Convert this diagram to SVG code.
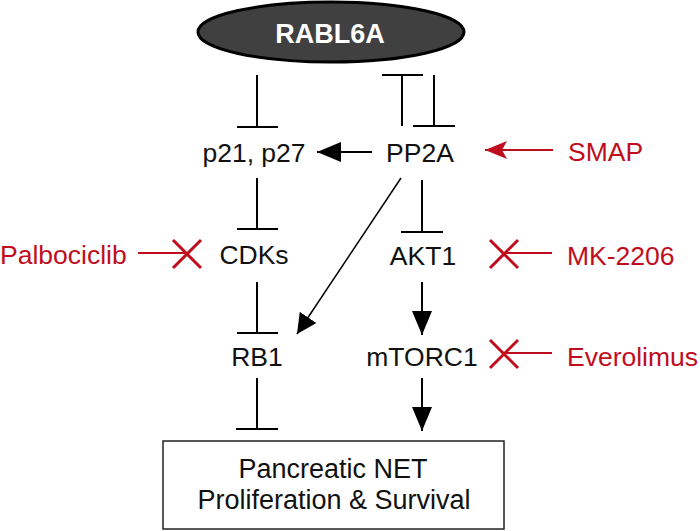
<svg xmlns="http://www.w3.org/2000/svg" width="700" height="531" viewBox="0 0 700 531">
<defs>
<style>
.t{font-family:"Liberation Sans",Arial,sans-serif;font-size:26.5px;fill:#111;text-anchor:middle}
.r{fill:#c00d1e}
.ln{stroke:#000;stroke-width:2;fill:none}
.thin{stroke:#000;stroke-width:1.5;fill:none}
.red{stroke:#c00d1e;stroke-width:2;fill:none}
.redx{stroke:#c00d1e;stroke-width:3;fill:none}
</style>
<marker id="ah" viewBox="0 0 20 20" refX="20" refY="10" markerWidth="20" markerHeight="20" markerUnits="userSpaceOnUse" orient="auto">
<path d="M0,0 L20,10 L0,20 Z" fill="#000"/>
</marker>
<marker id="ahl" viewBox="0 0 24 20" refX="24" refY="10" markerWidth="24" markerHeight="20" markerUnits="userSpaceOnUse" orient="auto">
<path d="M0,0 L24,10 L0,20 Z" fill="#000"/>
</marker>
<marker id="ahr" viewBox="0 0 22 18" refX="22" refY="9" markerWidth="22" markerHeight="18" markerUnits="userSpaceOnUse" orient="auto">
<path d="M0,0 L22,9 L0,18 L5,9 Z" fill="#c00d1e"/>
</marker>
</defs>
<rect width="700" height="531" fill="#fff"/>

<g id="RABL6A">
<ellipse cx="331" cy="32" rx="133" ry="30" fill="#404040" stroke="#000" stroke-width="3"/>
<text x="330" y="43" class="t" style="font-weight:bold;font-size:27px;fill:#fff">RABL6A</text>
</g>
<g id="p21p27"><text x="254" y="162" class="t">p21, p27</text></g>
<g id="PP2A"><text x="420" y="162" class="t">PP2A</text></g>
<g id="SMAP"><text x="568" y="161" class="t r" style="text-anchor:start">SMAP</text></g>
<g id="Palbociclib"><text x="0" y="264" class="t r" style="text-anchor:start">Palbociclib</text></g>
<g id="CDKs"><text x="254" y="264" class="t">CDKs</text></g>
<g id="AKT1"><text x="423" y="265" class="t">AKT1</text></g>
<g id="MK2206"><text x="567" y="265" class="t r" style="text-anchor:start">MK-2206</text></g>
<g id="RB1"><text x="257" y="366" class="t">RB1</text></g>
<g id="mTORC1"><text x="422" y="366" class="t">mTORC1</text></g>
<g id="Everolimus"><text x="567" y="366" class="t r" style="text-anchor:start">Everolimus</text></g>
<g id="outcome">
<rect x="163" y="441" width="341" height="88" fill="#fff" stroke="#222" stroke-width="1.5"/>
<text x="333" y="478" class="t" style="font-size:27px">Pancreatic NET</text>
<text x="334" y="509" class="t" style="font-size:27px">Proliferation &amp; Survival</text>
</g>

<g id="connectors">
<!-- RABL6A -| p21,p27 -->
<path class="ln" d="M257,75 V127 M237,127 H278"/>
<!-- PP2A -| RABL6A -->
<path class="ln" d="M402,126 V75 M382,75 H423"/>
<!-- RABL6A -| PP2A -->
<path class="ln" d="M434,75 V126 M413,126 H455"/>
<!-- PP2A -> p21,p27 -->
<line class="ln" x1="372" y1="152" x2="317" y2="152" marker-end="url(#ahl)"/>
<!-- SMAP -> PP2A -->
<line class="red" x1="553" y1="150" x2="485" y2="150" marker-end="url(#ahr)"/>
<!-- p21,p27 -| CDKs -->
<path class="ln" d="M257,178 V229 M237,229 H278"/>
<!-- Palbociclib -x CDKs -->
<line class="red" x1="138" y1="253" x2="186" y2="253"/>
<path class="redx" d="M173,240 L201,268 M201,240 L173,268"/>
<!-- CDKs -| RB1 -->
<path class="ln" d="M257,282 V333 M237,333 H278"/>
<!-- PP2A -> RB1 -->
<line class="thin" x1="401" y1="178" x2="297" y2="334" marker-end="url(#ah)"/>
<!-- PP2A -| AKT1 -->
<path class="ln" d="M422,180 V232 M401,232 H443"/>
<!-- MK-2206 -x AKT1 -->
<line class="red" x1="552" y1="253" x2="504" y2="253"/>
<path class="redx" d="M490,240 L518,268 M518,240 L490,268"/>
<!-- AKT1 -> mTORC1 -->
<line class="ln" x1="422" y1="282" x2="422" y2="335" marker-end="url(#ahl)"/>
<!-- Everolimus -x mTORC1 -->
<line class="red" x1="552" y1="353" x2="504" y2="353"/>
<path class="redx" d="M490,340 L518,368 M518,340 L490,368"/>
<!-- RB1 -| outcome -->
<path class="ln" d="M257,378 V429 M236,429 H278"/>
<!-- mTORC1 -> outcome -->
<line class="ln" x1="422" y1="378" x2="422" y2="431" marker-end="url(#ahl)"/>
</g>
</svg>
